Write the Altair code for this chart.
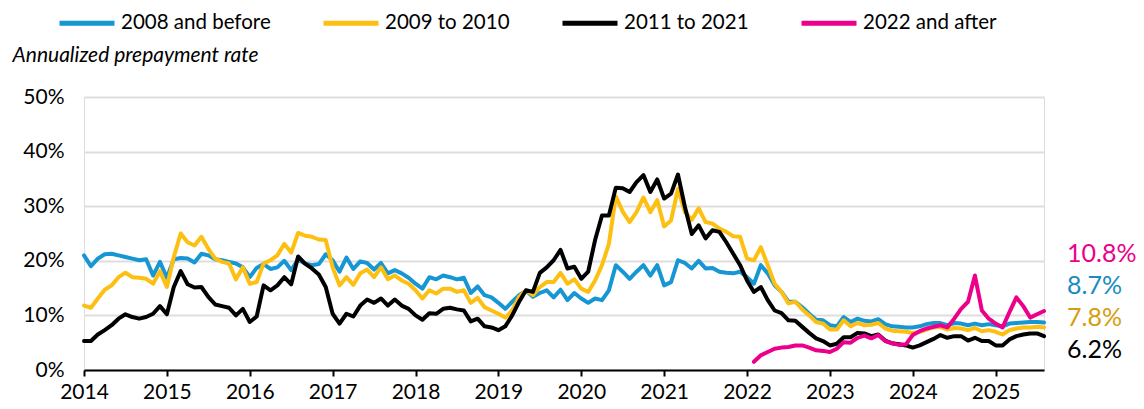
import altair as alt
import pandas as pd

series_names = ["2008 and before", "2009 to 2010", "2011 to 2021", "2022 and after"]
line_colors = ["#1696d2", "#fdbf11", "#000000", "#ec008b"]
label_colors = ["#1a8bbf", "#d59e0d", "#000000", "#ec008b"]
start_months = ["2014-01", "2014-01", "2014-01", "2022-02"]

blue = [
    21.0, 19.0, 20.4, 21.2, 21.3, 21.0, 20.7, 20.4, 20.1, 20.3, 17.3, 19.8,
    16.9, 20.3, 20.5, 20.4, 19.7, 21.3, 21.0, 20.3, 20.1, 19.8, 19.5, 18.8,
    17.0, 18.7, 19.4, 18.5, 18.8, 20.0, 18.3, 20.2, 19.5, 19.2, 19.4, 21.2,
    20.1, 18.0, 20.6, 18.5, 19.9, 19.6, 18.4, 19.6, 17.7, 18.3, 17.7, 16.9,
    15.8, 14.9, 17.0, 16.6, 17.3, 17.0, 16.6, 16.9, 14.1, 15.3, 13.7, 13.3,
    12.3, 11.2, 12.5, 13.7, 14.5, 13.4, 14.1, 14.6, 13.3, 14.7, 12.8, 14.1,
    13.1, 12.3, 13.1, 12.8, 14.6, 19.2, 18.0, 16.7, 18.0, 19.2, 17.3, 19.2,
    15.5, 16.1, 20.1, 19.6, 18.6, 20.0, 18.6, 18.7, 18.0, 17.8, 17.7, 18.0,
    17.0, 15.8, 19.2, 17.7, 15.5, 14.3, 12.5, 12.5, 11.5, 10.3, 9.2, 9.1,
    8.2, 8.0, 9.7, 8.8, 9.4, 9.0, 8.9, 9.3, 8.4, 8.0, 7.9, 7.8,
    7.8, 8.0, 8.4, 8.6, 8.6, 8.2, 8.6, 8.5, 8.2, 8.5, 8.2, 8.4,
    8.2, 8.0, 8.5, 8.6, 8.7, 8.8, 8.8, 8.7,
]

yellow = [
    11.8, 11.4, 13.1, 14.7, 15.5, 17.0, 17.8, 17.0, 16.9, 16.7, 15.8, 18.1,
    15.2, 20.7, 25.0, 23.4, 22.8, 24.4, 22.2, 20.4, 19.8, 19.5, 16.6, 18.8,
    15.8, 16.1, 19.5, 20.1, 21.0, 23.1, 21.5, 25.1, 24.6, 24.4, 23.9, 23.8,
    18.8, 15.5, 17.0, 15.6, 17.7, 18.4, 17.0, 18.8, 16.6, 17.3, 16.4, 15.8,
    14.6, 13.1, 14.6, 14.0, 14.9, 14.9, 14.3, 14.6, 12.3, 13.2, 11.5, 10.9,
    10.3, 9.6, 10.9, 13.4, 14.6, 13.7, 15.2, 16.1, 16.1, 17.8, 15.8, 16.6,
    14.9, 14.3, 16.4, 19.2, 23.1, 31.8, 29.0, 27.1, 28.9, 31.6, 28.9, 31.1,
    26.3, 27.4, 33.2, 28.9, 27.5, 29.6, 27.1, 26.8, 25.9, 25.3, 24.5, 24.4,
    20.4, 20.1, 22.5, 19.2, 15.8, 14.3, 12.2, 12.5, 11.1, 10.0, 8.8, 8.5,
    7.4, 7.4, 9.1, 8.0, 8.6, 8.2, 8.3, 8.6, 7.6, 7.2, 7.1, 7.0,
    6.8, 7.0, 7.4, 7.8, 7.9, 7.4, 7.7, 7.6, 7.3, 7.7, 7.1, 7.3,
    7.0, 6.5, 7.3, 7.6, 7.8, 7.8, 7.9, 7.8,
]

black = [
    5.3, 5.3, 6.5, 7.3, 8.2, 9.4, 10.2, 9.7, 9.4, 9.7, 10.3, 11.7,
    10.2, 15.2, 18.1, 15.7, 15.1, 15.2, 13.4, 12.0, 11.7, 11.4, 10.0, 11.2,
    8.8, 9.8, 15.5, 14.6, 15.5, 17.0, 15.7, 20.8, 19.5, 18.6, 17.5, 15.2,
    10.3, 8.5, 10.3, 9.8, 11.8, 12.9, 12.3, 13.1, 11.8, 12.9, 11.8, 11.2,
    10.0, 9.2, 10.4, 10.3, 11.2, 11.4, 11.1, 10.9, 8.9, 9.4, 8.0, 7.8,
    7.3, 8.0, 10.0, 12.5, 14.6, 14.3, 17.8, 18.8, 20.1, 22.0, 18.6, 18.9,
    16.7, 18.0, 23.8, 28.3, 28.3, 33.4, 33.3, 32.6, 34.4, 35.7, 32.6, 34.9,
    31.4, 32.3, 35.8, 29.9, 24.9, 26.5, 24.1, 25.6, 25.3, 23.4, 21.3, 19.2,
    16.4, 14.3, 15.2, 12.8, 10.9, 10.4, 9.1, 9.0, 7.9, 6.8, 5.8, 5.3,
    4.5, 4.8, 6.0, 6.0, 6.8, 6.7, 6.2, 6.5, 5.4, 4.9, 4.7, 4.5,
    4.1, 4.5, 5.1, 5.7, 6.4, 5.9, 6.2, 6.2, 5.4, 5.9, 5.3, 5.3,
    4.5, 4.5, 5.6, 6.2, 6.5, 6.7, 6.7, 6.2,
]

pink = [
    1.5, 2.7, 3.3, 3.9, 4.1, 4.2, 4.5, 4.5, 4.1, 3.6, 3.5,
    3.3, 3.9, 5.1, 5.0, 5.9, 6.3, 5.8, 6.4, 5.3, 4.9, 4.6, 4.7,
    6.4, 7.1, 7.6, 7.9, 8.2, 7.8, 9.4, 11.2, 12.5, 17.3, 10.9, 9.4,
    8.5, 7.8, 10.6, 13.3, 11.7, 9.6, 10.2, 10.8,
]

end_labels = ["8.7%", "7.8%", "6.2%", "10.8%"]
end_label_pos = [15.3, 9.5, 3.6, 21.2]

year_ticks = list(range(2014, 2026))
y_ticks = [0, 10, 20, 30, 40, 50]

FONT = "Lato"

rows = []
all_vals = [blue, yellow, black, pink]
for k, (name, start, vals) in enumerate(zip(series_names, start_months, all_vals)):
    y0, m0 = (int(p) for p in start.split("-"))
    base = (y0 - 2014) * 12 + (m0 - 1)
    for i, v in enumerate(vals):
        rows.append({"series": name, "t": 2014 + (base + i) / 12.0, "value": v, "k": k})
df = pd.DataFrame(rows)

last_t = df["t"].max()
lbl = pd.DataFrame({
    "series": series_names,
    "text": end_labels,
    "pos": end_label_pos,
    "lcolor": label_colors,
    "t": [last_t] * 4,
})

x_scale = alt.Scale(domain=[2014, last_t], nice=False, zero=False)
y_scale = alt.Scale(domain=[0, 50], nice=False)

lines = alt.Chart(df).mark_line(strokeWidth=4, strokeJoin="round", strokeCap="round").encode(
    x=alt.X("t:Q", scale=x_scale, axis=alt.Axis(
        values=year_ticks, format="d", title=None, grid=False,
        domain=True, domainColor="#000000", domainWidth=2,
        ticks=True, tickColor="#000000", tickWidth=2, tickSize=6,
        labelFont=FONT, labelFontSize=21, labelColor="#000000", labelPadding=5,
        labelFlush=False,
    )),
    y=alt.Y("value:Q", scale=y_scale, axis=alt.Axis(
        values=y_ticks, labelExpr="datum.value + '%'",
        title="Annualized prepayment rate", titleAngle=0, titleAlign="left",
        titleBaseline="alphabetic", titleX=-72, titleY=-36,
        titleFont=FONT, titleFontSize=21, titleFontStyle="italic", titleFontWeight="normal",
        titleColor="#000000",
        domain=False, ticks=False, grid=True, gridColor="#dedede", gridWidth=2,
        labelFont=FONT, labelFontSize=21, labelColor="#000000", labelPadding=20,
    )),
    color=alt.Color("series:N", scale=alt.Scale(domain=series_names, range=line_colors),
                    legend=alt.Legend(
                        orient="none", legendX=-27, legendY=-104, direction="horizontal",
                        title=None, symbolType="stroke", symbolStrokeWidth=5, symbolSize=3025,
                        labelFont=FONT, labelFontSize=20.5, labelColor="#000000",
                        columnPadding=42, labelOffset=4,
                    )),
    order=alt.Order("k:Q"),
)

labels = alt.Chart(lbl).mark_text(align="left", baseline="middle", dx=23, font=FONT, fontSize=25).encode(
    x=alt.X("t:Q", scale=x_scale),
    y=alt.Y("pos:Q", scale=y_scale),
    text="text:N",
    color=alt.Color("lcolor:N", scale=None),
)

chart = alt.layer(lines, labels).resolve_scale(color="independent").properties(
    width=960, height=273,
    autosize=alt.AutoSizeParams(type="none"),
    padding={"left": 76, "top": 89, "right": 92, "bottom": 31},
).configure_view(stroke=None).configure(background="white")

chart.save("out.html", embed_options={"renderer": "svg", "actions": False})
